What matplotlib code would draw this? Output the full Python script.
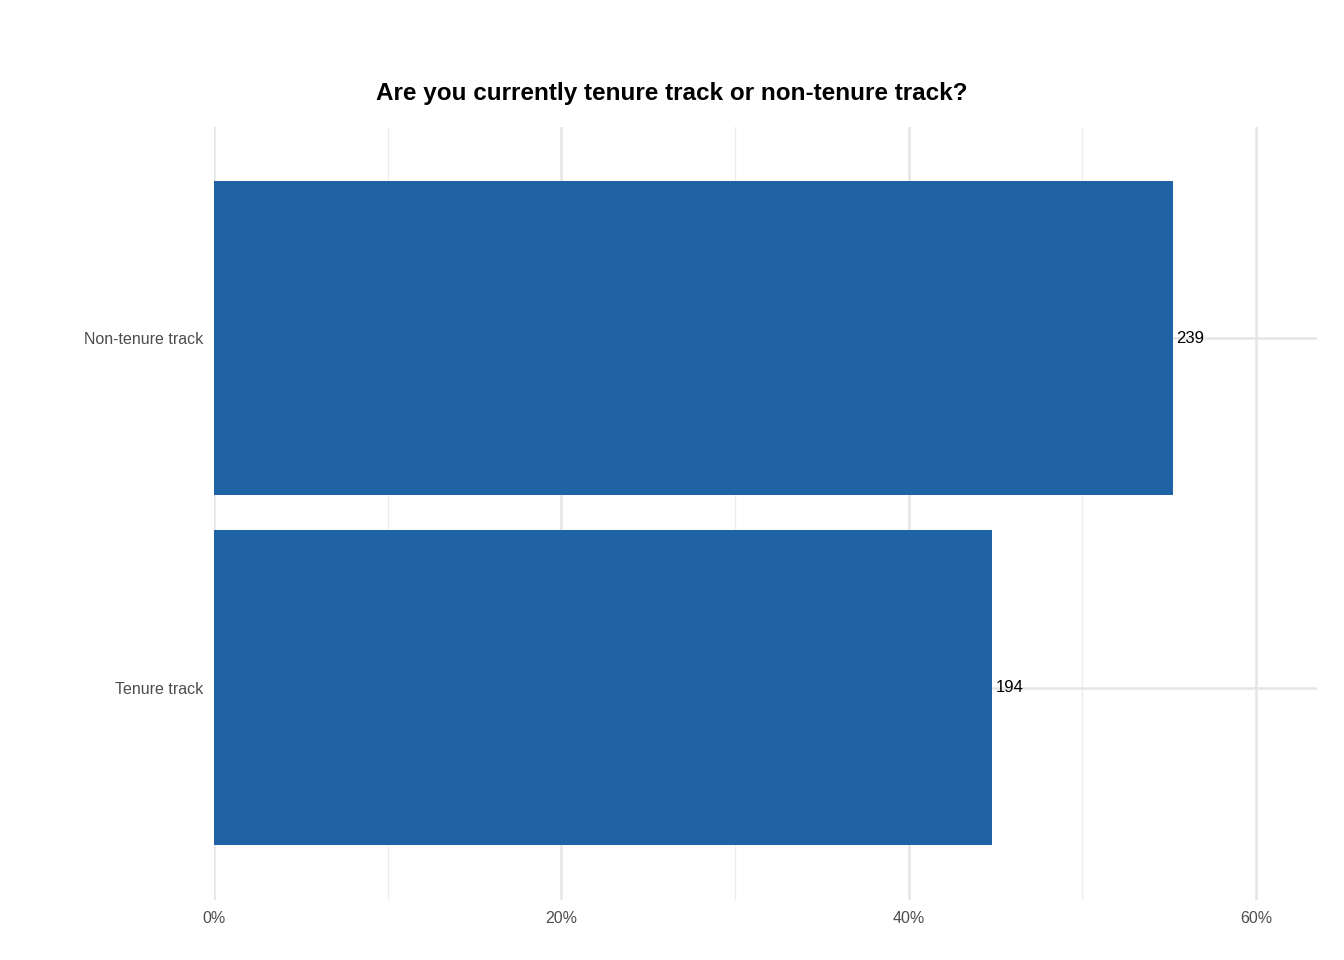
import matplotlib
matplotlib.use("Agg")
import matplotlib.pyplot as plt

categories = ["Tenure track", "Non-tenure track"]
counts = [194, 239]
total = sum(counts)
pcts = [c / total * 100 for c in counts]
xticks = [0, 20, 40, 60]
xticklabels = ["0%", "20%", "40%", "60%"]

plt.rcParams['font.family'] = ['Liberation Sans', 'DejaVu Sans']
fig = plt.figure(figsize=(13.44, 9.6), dpi=100)
ax = fig.add_axes([0.1592, 0.0625, 0.8207, 0.8052])
ypos = list(range(len(categories)))
ax.barh(ypos, pcts, height=0.9, color="#1f63a5", zorder=2)
for y, p, c in zip(ypos, pcts, counts):
    ax.text(p + 0.2, y, str(c), va="center", ha="left", fontsize=12, color="black", zorder=3)
ax.set_xlim(0, 63.5)
ax.set_ylim(-0.606, 1.603)
ax.set_xticks(xticks)
ax.set_xticklabels(xticklabels)
ax.set_xticks([10, 30, 50], minor=True)
ax.set_yticks(ypos)
ax.set_yticklabels(categories)
ax.grid(True, which="major", color="#e5e5e5", linewidth=1.8, zorder=0)
ax.grid(True, which="minor", axis="x", color="#ececec", linewidth=0.9, zorder=0)
ax.tick_params(which="both", length=0, labelsize=11.5, labelcolor="#4d4d4d", pad=8)
for s in ax.spines.values():
    s.set_visible(False)
fig.text(0.5, 0.903, "Are you currently tenure track or non-tenure track?", ha="center", va="center",
         fontsize=17.5, fontweight="bold")
fig.savefig("out.png", dpi=100)
